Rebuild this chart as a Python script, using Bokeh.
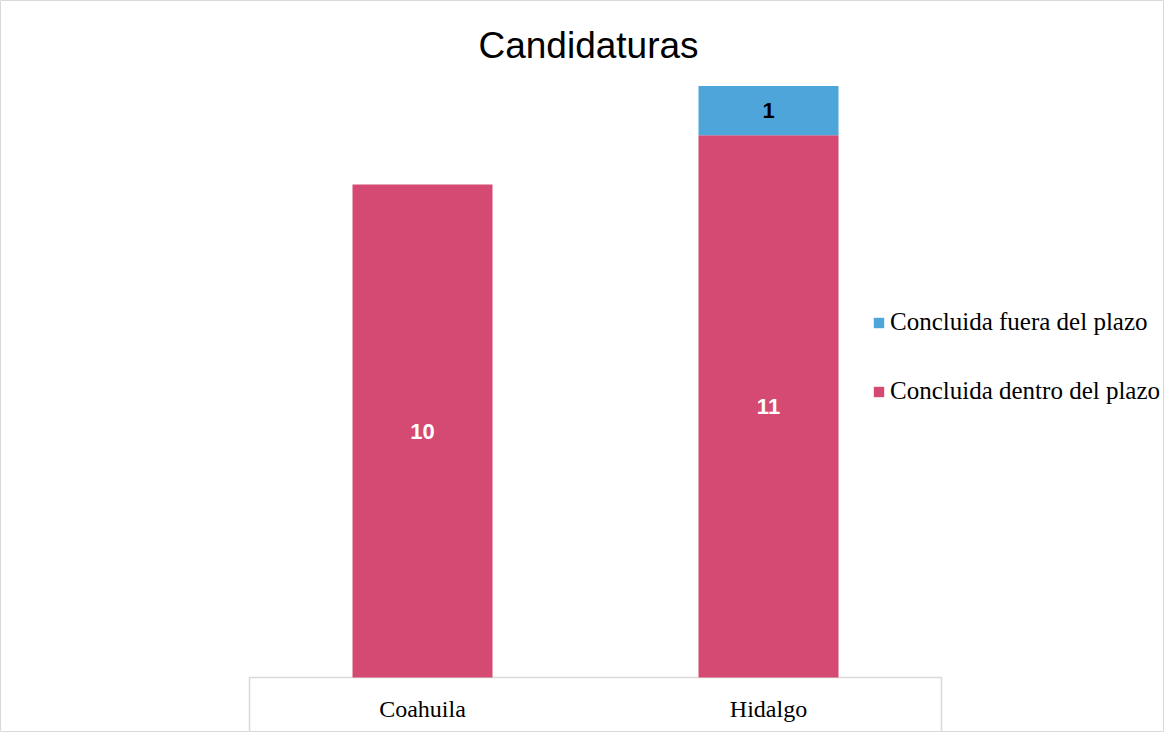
from bokeh.plotting import figure
from bokeh.models import Range1d, Legend, LegendItem, Label, ColumnDataSource
from bokeh.core.properties import value
from bokeh.embed import file_html
from bokeh.resources import INLINE

# ---- data ----
title_text = "Candidaturas"
states = ["Coahuila", "Hidalgo"]
dentro = [10, 11]
fuera = [0, 1]
series_names = ["Concluida dentro del plazo", "Concluida fuera del plazo"]
colors = ["#D54A72", "#4EA5DA"]

# ---- layout constants ----
W, H = 1164, 732
PX_PER_CAT = 346.0
PX_PER_UNIT = 49.3
x_start = 0.5 - 422 / PX_PER_CAT
y_start = -55 / PX_PER_UNIT

p = figure(width=W, height=H,
           x_range=Range1d(x_start, x_start + W / PX_PER_CAT),
           y_range=Range1d(y_start, y_start + H / PX_PER_UNIT),
           output_backend="svg", toolbar_location=None,
           x_axis_location=None, y_axis_location=None,
           min_border=0, title=None)
p.grid.grid_line_color = None
p.outline_line_color = "#d9d9d9"
p.outline_line_width = 1
p.background_fill_color = "white"
p.border_fill_color = "white"

xs = [i + 0.5 for i in range(len(states))]

# category "axis" box
p.quad(left=[0], right=[len(states)], top=[0], bottom=[y_start - 2],
       fill_color=None, line_color="#d9d9d9", line_width=1.5)

src = ColumnDataSource(dict(x=xs, dentro=dentro, fuera=fuera))
rs = p.vbar_stack(["dentro", "fuera"], x="x", width=140 / PX_PER_CAT,
                  color=colors, line_color=None, source=src)

# data labels
lab_x, lab_y, lab_t, lab_c = [], [], [], []
for i in range(len(states)):
    if dentro[i] > 0:
        lab_x.append(xs[i]); lab_y.append(dentro[i] / 2); lab_t.append(str(dentro[i])); lab_c.append("white")
    if fuera[i] > 0:
        lab_x.append(xs[i]); lab_y.append(dentro[i] + fuera[i] / 2); lab_t.append(str(fuera[i])); lab_c.append("black")
lsrc = ColumnDataSource(dict(x=lab_x, y=lab_y, t=lab_t, c=lab_c))
p.text(x="x", y="y", text="t", text_color="c", source=lsrc,
       text_font=value("Liberation Sans"), text_font_style="bold",
       text_font_size="22px", text_align="center", text_baseline="middle")

# category labels
p.text(x=xs, y=[-31 / PX_PER_UNIT] * len(states), text=states,
       text_font=value("Liberation Serif"), text_font_size="24px",
       text_color="black", text_align="center", text_baseline="middle")

# title
p.add_layout(Label(x=588, y=H - 45, x_units="screen", y_units="screen",
                   text=title_text, text_font="Liberation Sans",
                   text_font_size="37px", text_color="black",
                   text_align="center", text_baseline="middle"))

legend = Legend(items=[
    LegendItem(label=value(series_names[1]), renderers=[rs[1]]),
    LegendItem(label=value(series_names[0]), renderers=[rs[0]]),
], location=(872, 327), orientation="vertical",
    border_line_color=None, background_fill_alpha=0,
    padding=0, margin=0, spacing=41,
    glyph_width=13, glyph_height=13, label_standoff=5,
    label_text_font="Liberation Serif", label_text_font_size="25px",
    label_text_color="black", label_height=13)
p.add_layout(legend)

open("out.html", "w").write(file_html(p, INLINE))
